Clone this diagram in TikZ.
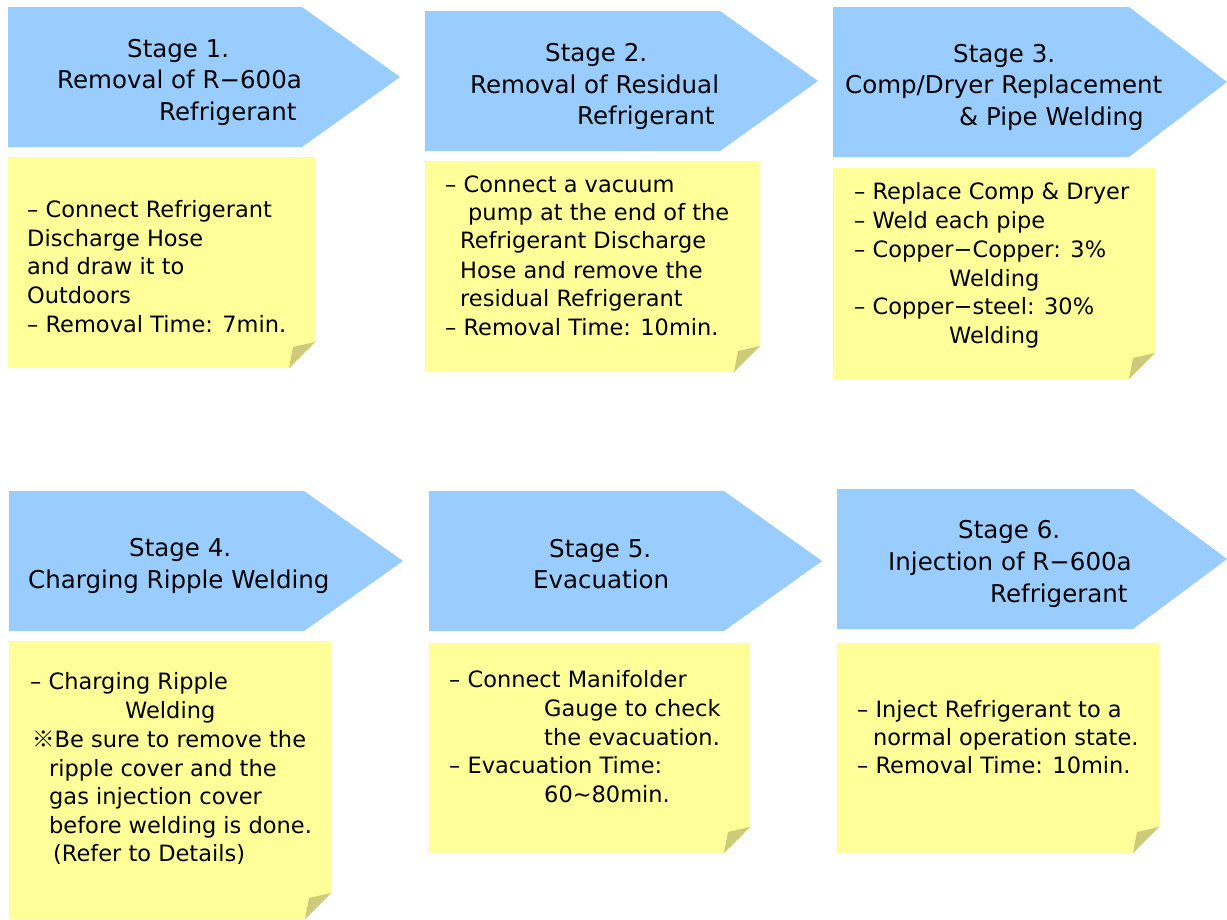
\documentclass[tikz,border=0pt]{standalone}
\usepackage{fontspec}
\setmainfont{DejaVu Sans}
\newfontfamily\cjkfont{Noto Sans CJK KR}
\definecolor{arrowblue}{HTML}{99CCFF}
\definecolor{noteyellow}{HTML}{FFFF99}
\definecolor{notefold}{HTML}{CDCB7A}
\newcommand\stagearrow[5]{%
  \fill[arrowblue] (#1,#2) -- (#4,#2) -- (#5,{(#2+#3)/2}) -- (#4,#3) -- (#1,#3) -- cycle;}
\newcommand\stickynote[4]{%
  \fill[noteyellow] (#1,#2) -- (#3,#2) -- (#3,#4-26) -- (#3-26,#4) -- (#1,#4) -- cycle;
  \fill[notefold] (#3,#4-26) -- (#3-22,#4-21) -- (#3-26,#4) -- cycle;}
\tikzset{
  arrtxt/.style={anchor=base west, inner sep=0pt, text=black, font=\fontsize{24.5}{29}\selectfont},
  notetxt/.style={anchor=base west, inner sep=0pt, text=black, font=\fontsize{22.5}{27}\selectfont}
}
\begin{document}
\begin{tikzpicture}[x=1pt,y=-1pt]
\useasboundingbox (0,0) rectangle (1227,919);
\fill[white] (0,0) rectangle (1227,919);
% ---------- Row 1 shapes
\stagearrow{8}{7}{147}{302}{400}
\stickynote{8}{157}{315}{368}
\stagearrow{425}{11}{151}{720}{818}
\stickynote{425}{161}{760}{372}
\stagearrow{833}{7}{157}{1129}{1227}
\stickynote{833}{168}{1155}{379}
% ---------- Row 2 shapes
\stagearrow{9}{491}{631}{304}{403}
\stickynote{9}{641}{331}{919}
\stagearrow{429}{491}{631}{724}{822}
\stickynote{429}{643}{750}{853}
\stagearrow{837}{489}{629}{1133}{1227}
\stickynote{837}{643}{1159}{853}
% ---------- Stage 1
\node[arrtxt] (s1a) at (127,57) {Stage 1.};
\node[arrtxt] (s1b) at (57,88) {Removal of R−600a};
\node[arrtxt] (s1c) at (159,120) {Refrigerant};
\node[notetxt] (n1a) at (27,217) {– Connect Refrigerant};
\node[notetxt] (n1b) at (27,246) {Discharge Hose};
\node[notetxt] (n1c) at (27,274) {and draw it to};
\node[notetxt] (n1d) at (27,303) {Outdoors};
\node[notetxt] (n1e) at (27,332) {– Removal Time: 7min.};
% ---------- Stage 2
\node[arrtxt] (s2a) at (545,61) {Stage 2.};
\node[arrtxt] (s2b) at (470,93) {Removal of Residual};
\node[arrtxt] (s2c) at (577,124) {Refrigerant};
\node[notetxt] (n2a) at (445,192) {– Connect a vacuum};
\node[notetxt] (n2b) at (468,220) {pump at the end of the};
\node[notetxt] (n2c) at (460,248) {Refrigerant Discharge};
\node[notetxt] (n2d) at (460,278) {Hose and remove the};
\node[notetxt] (n2e) at (460,306) {residual Refrigerant};
\node[notetxt] (n2f) at (445,335) {– Removal Time: 10min.};
% ---------- Stage 3
\node[arrtxt] (s3a) at (953,62) {Stage 3.};
\node[arrtxt] (s3b) at (845,93) {Comp/Dryer Replacement};
\node[arrtxt] (s3c) at (959,125) {\& Pipe Welding};
\node[notetxt] (n3a) at (854,199) {– Replace Comp \& Dryer};
\node[notetxt] (n3b) at (854,228) {– Weld each pipe};
\node[notetxt] (n3c) at (854,257) {– Copper−Copper: 3\%};
\node[notetxt] (n3d) at (949,286) {Welding};
\node[notetxt] (n3e) at (854,314) {– Copper−steel: 30\%};
\node[notetxt] (n3f) at (949,343) {Welding};
% ---------- Stage 4
\node[arrtxt] (s4a) at (129,556) {Stage 4.};
\node[arrtxt] (s4b) at (28,588) {Charging Ripple Welding};
\node[notetxt] (n4a) at (30,689) {– Charging Ripple};
\node[notetxt] (n4b) at (125,718) {Welding};
\node[notetxt] (n4c) at (32,747) {{\cjkfont ※}Be sure to remove the};
\node[notetxt] (n4d) at (49,776) {ripple cover and the};
\node[notetxt] (n4e) at (49,804) {gas injection cover};
\node[notetxt] (n4f) at (49,833) {before welding is done.};
\node[notetxt] (n4g) at (53,861) {(Refer to Details)};
% ---------- Stage 5
\node[arrtxt] (s5a) at (549,557) {Stage 5.};
\node[arrtxt] (s5b) at (533,588) {Evacuation};
\node[notetxt] (n5a) at (449,687) {– Connect Manifolder};
\node[notetxt] (n5b) at (544,716) {Gauge to check};
\node[notetxt] (n5c) at (544,745) {the evacuation.};
\node[notetxt] (n5d) at (449,773) {– Evacuation Time:};
\node[notetxt] (n5e) at (544,802) {60\textasciitilde80min.};
% ---------- Stage 6
\node[arrtxt] (s6a) at (958,538) {Stage 6.};
\node[arrtxt] (s6b) at (888,570) {Injection of R−600a};
\node[arrtxt] (s6c) at (990,602) {Refrigerant};
\node[notetxt] (n6a) at (857,717) {– Inject Refrigerant to a};
\node[notetxt] (n6b) at (873,745) {normal operation state.};
\node[notetxt] (n6c) at (857,773) {– Removal Time: 10min.};
\end{tikzpicture}
\end{document}
